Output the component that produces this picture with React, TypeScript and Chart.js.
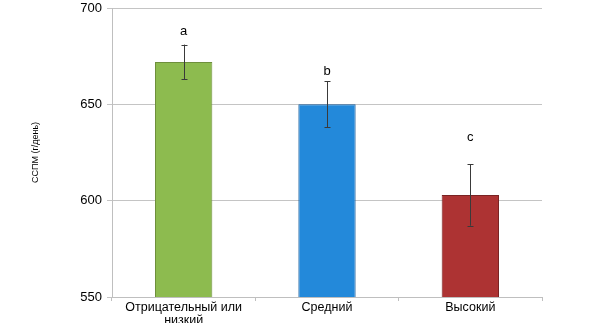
import React, { useEffect, useRef } from "react";
import { Chart, registerables } from "chart.js";

Chart.register(...registerables);

const categories: (string | string[])[] = [["Отрицательный или", "низкий"], "Средний", "Высокий"];
const means = [672, 650, 603];
const errors = [9, 12, 16];
const letters = ["a", "b", "c"];
const letterValues = [688, 667, 633];
const yTicks = [550, 600, 650, 700];
const yTitle = "ССПМ (г/день)";

const fillColors = ["#8DBB4F", "#2389DA", "#AD3333"];
const borderColors = ["#6E8F3C", "#1D5F9C", "#7A2323"];

const errorPlugin = {
  id: "errorBarsLetters",
  afterDatasetsDraw(chart: any) {
    const ctx = chart.ctx;
    const meta = chart.getDatasetMeta(0);
    const y = chart.scales.y;
    ctx.save();
    meta.data.forEach((bar: any, i: number) => {
      const x = Math.round(bar.x) + 0.5;
      const top = y.getPixelForValue(means[i] + errors[i]);
      const bot = y.getPixelForValue(means[i] - errors[i]);
      ctx.strokeStyle = "#3a3a3a";
      ctx.lineWidth = 1;
      ctx.beginPath();
      ctx.moveTo(x, top);
      ctx.lineTo(x, bot);
      ctx.moveTo(x - 3, Math.round(top) + 0.5);
      ctx.lineTo(x + 3, Math.round(top) + 0.5);
      ctx.moveTo(x - 3, Math.round(bot) + 0.5);
      ctx.lineTo(x + 3, Math.round(bot) + 0.5);
      ctx.stroke();
      ctx.fillStyle = "#000";
      ctx.font = "13px 'Liberation Sans', Arial, sans-serif";
      ctx.textAlign = "center";
      ctx.textBaseline = "middle";
      ctx.fillText(letters[i], bar.x, y.getPixelForValue(letterValues[i]));
    });
    ctx.restore();
  },
};

export default function App() {
  const ref = useRef<HTMLCanvasElement>(null);
  useEffect(() => {
    if (!ref.current) return;
    const chart = new Chart(ref.current, {
      type: "bar",
      data: {
        labels: categories as any,
        datasets: [
          {
            data: means,
            backgroundColor: fillColors,
            borderColor: borderColors,
            borderWidth: 1,
            barPercentage: 0.4,
            categoryPercentage: 1,
          },
        ],
      },
      options: {
        responsive: false,
        animation: false,
        layout: { padding: { left: 0, right: 68, top: 8, bottom: 0 } },
        plugins: { legend: { display: false }, tooltip: { enabled: false } },
        scales: {
          x: {
            grid: {
              offset: true,
              drawOnChartArea: false,
              tickLength: 4,
              color: "#bfbfbf",
            },
            border: { color: "#bfbfbf" },
            ticks: {
              color: "#000",
              padding: 0,
              maxRotation: 0,
              autoSkip: false,
              font: { family: "'Liberation Sans', Arial, sans-serif", size: 12.5, lineHeight: 1.05 },
            },
            afterFit: (s: any) => {
              s.height = 26;
              s.paddingLeft = 0;
              s.paddingRight = 0;
            },
          },
          y: {
            min: 550,
            max: 700,
            afterBuildTicks: (s: any) => {
              s.ticks = yTicks.map((v) => ({ value: v }));
            },
            grid: { color: "#c4c4c4", tickLength: 5 },
            border: { color: "#bfbfbf" },
            ticks: {
              color: "#000",
              padding: 5,
              font: { family: "'Liberation Sans', Arial, sans-serif", size: 13 },
            },
            title: {
              display: true,
              text: yTitle,
              color: "#000",
              padding: { top: 30, bottom: 0 },
              font: { family: "'Liberation Sans', Arial, sans-serif", size: 9 },
            },
            afterFit: (s: any) => {
              s.width = 112;
              s.paddingTop = 0;
              s.paddingBottom = 0;
            },
          },
        },
      },
      plugins: [errorPlugin],
    });
    return () => chart.destroy();
  }, []);
  return (
    <div style={{ position: "fixed", left: 0, top: 0, width: 610, height: 323, background: "#fff" }}>
      <canvas ref={ref} width={610} height={323} style={{ display: "block" }} />
    </div>
  );
}
